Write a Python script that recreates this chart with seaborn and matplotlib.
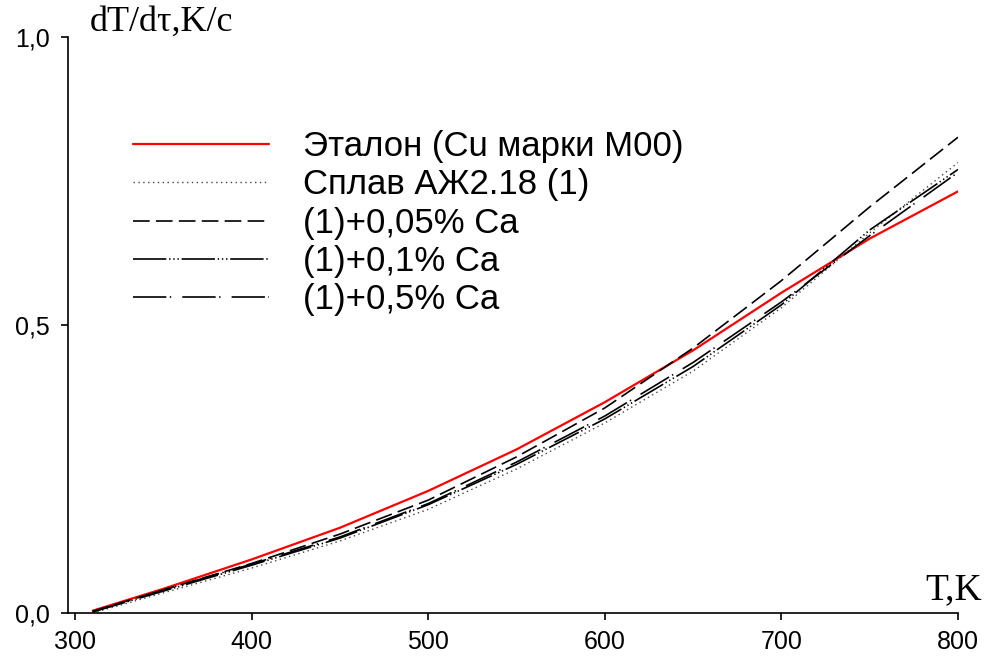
import matplotlib
matplotlib.use("Agg")
import matplotlib.pyplot as plt
import seaborn as sns
import numpy as np

T = [310, 350, 400, 450, 500, 550, 600, 650, 700, 750, 800]
etalon = [0.004, 0.042, 0.093, 0.148, 0.212, 0.284, 0.366, 0.456, 0.556, 0.650, 0.732]
splav = [0.000, 0.035, 0.078, 0.125, 0.180, 0.250, 0.330, 0.420, 0.530, 0.660, 0.782]
ca005 = [0.003, 0.040, 0.086, 0.137, 0.196, 0.271, 0.356, 0.460, 0.577, 0.705, 0.826]
ca01 = [0.002, 0.038, 0.083, 0.130, 0.188, 0.258, 0.337, 0.428, 0.535, 0.665, 0.770]
ca05 = [0.002, 0.040, 0.085, 0.132, 0.190, 0.262, 0.342, 0.435, 0.540, 0.655, 0.765]

labels = ["Эталон (Cu марки M00)", "Сплав АЖ2.18 (1)", "(1)+0,05% Ca", "(1)+0,1% Ca", "(1)+0,5% Ca"]
xticks = [300, 400, 500, 600, 700, 800]
yticks = [0.0, 0.5, 1.0]
ytick_labels = ["0,0", "0,5", "1,0"]

sns.set_style("white")
plt.rcParams['font.family'] = ['Liberation Sans', 'DejaVu Sans']
plt.rcParams['lines.scale_dashes'] = False
plt.rcParams['text.color'] = 'black'
plt.rcParams['xtick.color'] = 'black'
plt.rcParams['ytick.color'] = 'black'

fig = plt.figure(figsize=(9.87, 6.6), dpi=100)
ax = fig.add_axes([68/987, 47/660, (958-68)/987, (613-37)/660])

series = [etalon, splav, ca005, ca01, ca05]
styles = [
    dict(color="#ff0000", lw=1.6, linestyle="-"),
    dict(color="#444444", lw=1.0, linestyle=(0, (1, 2.5))),
    dict(color="black", lw=1.2, linestyle=(0, (12, 4.5))),
    dict(color="black", lw=1.2, linestyle=(0, (24, 2, 1, 2, 1, 2, 1, 2))),
    dict(color="black", lw=1.2, linestyle=(0, (24, 2.5, 1, 8))),
]
for vals, lab, st in zip(series, labels, styles):
    sns.lineplot(x=T, y=vals, ax=ax, label=lab, **st)

ax.set_xlim(296, 800)
ax.set_ylim(0, 1.0)
ax.set_xticks(xticks)
ax.set_yticks(yticks)
ax.set_yticklabels(ytick_labels)
for s in ["top", "right"]:
    ax.spines[s].set_visible(False)
for s in ["left", "bottom"]:
    ax.spines[s].set_color("black")
    ax.spines[s].set_linewidth(1.2)
ax.tick_params(axis="both", direction="out", length=5, width=1.2, colors="black",
               labelsize=18, left=True, bottom=True)
ax.tick_params(axis="y", pad=8)
ax.tick_params(axis="x", pad=7)

fig.text(90/987, 1 - 22/660, "dT/dτ,K/c", fontfamily="Liberation Serif", fontsize=26,
         va="center", ha="left", color="black")
fig.text(982/987, 1 - 590/660, "T,K", fontfamily="Liberation Serif", fontsize=27,
         va="center", ha="right", color="black")

leg = ax.legend(loc="upper left", bbox_to_anchor=(102/987, 1 - 99/660),
                bbox_transform=fig.transFigure, frameon=False, fontsize=25,
                handlelength=3.9, handletextpad=1.0, labelspacing=0.15)
for t in leg.get_texts():
    t.set_color("black")

fig.savefig("out.png", dpi=100)
